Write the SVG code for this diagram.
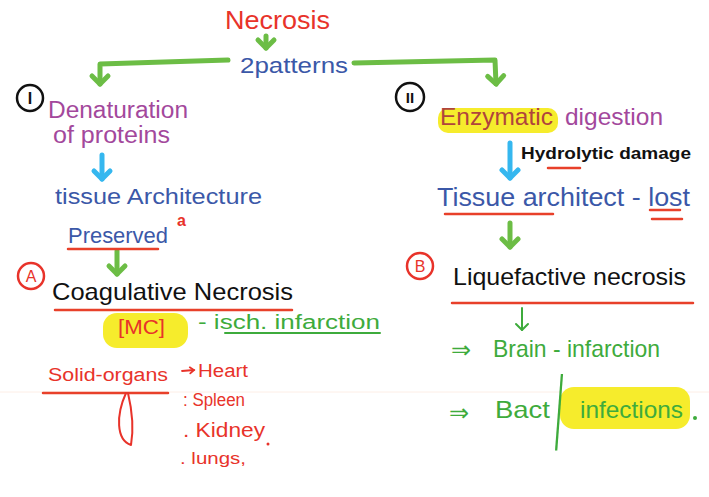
<svg xmlns="http://www.w3.org/2000/svg" width="709" height="497" viewBox="0 0 709 497">
<style>
text{font-family:"Liberation Sans","Noto Sans",sans-serif;}
.red{fill:#e8332a}.blue{fill:#3b58a8}.purple{fill:#a3489c}.blk{fill:#111}.grn{fill:#3eab3c}
.ln{fill:none;stroke-linecap:round;stroke-linejoin:round}
.rl{stroke:#e8402a;stroke-width:2.5}
.hl{fill:#f6ec2c}
.circ{fill:none;stroke-width:2.5}
</style>
<defs>
<marker id="hg" markerUnits="userSpaceOnUse" markerWidth="24" markerHeight="24" refX="0" refY="0" viewBox="-12 -12 24 24" orient="auto" overflow="visible">
<path d="M-8,-8 L0,0 L-8,8" fill="none" stroke="#6cbd45" stroke-width="5" stroke-linecap="round" stroke-linejoin="round"/>
</marker>
<marker id="hb" markerUnits="userSpaceOnUse" markerWidth="24" markerHeight="24" refX="0" refY="0" viewBox="-12 -12 24 24" orient="auto" overflow="visible">
<path d="M-8,-8 L0,0 L-8,8" fill="none" stroke="#35b7ef" stroke-width="5" stroke-linecap="round" stroke-linejoin="round"/>
</marker>
<marker id="hgs" markerUnits="userSpaceOnUse" markerWidth="16" markerHeight="16" refX="0" refY="0" viewBox="-8 -8 16 16" orient="auto" overflow="visible">
<path d="M-6,-6 L0,0 L-6,6" fill="none" stroke="#3eab3c" stroke-width="2" stroke-linecap="round" stroke-linejoin="round"/>
</marker>
<marker id="hr" markerUnits="userSpaceOnUse" markerWidth="10" markerHeight="10" refX="0" refY="0" viewBox="-5 -5 10 10" orient="auto" overflow="visible">
<path d="M-4,-3 L0,0 L-4,3" fill="none" stroke="#e8332a" stroke-width="1.8" stroke-linecap="round"/>
</marker>
</defs>
<rect width="709" height="497" fill="#fff"/>
<line x1="0" y1="392" x2="709" y2="392" stroke="#fdeee6" stroke-width="1"/>

<g id="connectors" class="ln">
<path d="M266,36 L266,48" stroke="#6cbd45" stroke-width="5" marker-end="url(#hg)"/>
<path d="M228,60 L100,64 L100,84" stroke="#6cbd45" stroke-width="5" marker-end="url(#hg)"/>
<path d="M354,63 L495,60 L496,84" stroke="#6cbd45" stroke-width="5" marker-end="url(#hg)"/>
<path d="M102,155 L102,179" stroke="#35b7ef" stroke-width="5" marker-end="url(#hb)"/>
<path d="M117,251 L117,274" stroke="#6cbd45" stroke-width="5" marker-end="url(#hg)"/>
<path d="M510,143 L510,178" stroke="#35b7ef" stroke-width="5" marker-end="url(#hb)"/>
<path d="M510,223 L510,247" stroke="#6cbd45" stroke-width="5" marker-end="url(#hg)"/>
<path d="M522,308 L522,330" stroke="#3eab3c" stroke-width="2" marker-end="url(#hgs)"/>
<path d="M182,371 L194,370" stroke="#e8332a" stroke-width="1.8" marker-end="url(#hr)"/>
</g>

<g id="necrosis"><text x="225" y="29" font-size="26" textLength="105" lengthAdjust="spacingAndGlyphs" class="red">Necrosis</text></g>
<g id="patterns"><text x="240" y="73" font-size="22" textLength="108" lengthAdjust="spacingAndGlyphs" class="blue">2patterns</text></g>

<g id="denaturation">
<circle cx="30" cy="98" r="13" class="circ" stroke="#111"/>
<text x="30" y="104" font-size="16" font-weight="bold" text-anchor="middle" class="blk">I</text>
<text x="48" y="118" font-size="23" textLength="140" lengthAdjust="spacingAndGlyphs" class="purple">Denaturation</text>
<text x="53" y="143" font-size="23" textLength="117" lengthAdjust="spacingAndGlyphs" class="purple">of proteins</text>
</g>

<g id="preserved">
<text x="55" y="204" font-size="22" textLength="207" lengthAdjust="spacingAndGlyphs" class="blue">tissue Architecture</text>
<text x="68" y="243" font-size="22" textLength="100" lengthAdjust="spacingAndGlyphs" class="blue">Preserved</text>
<line x1="68" y1="249" x2="158" y2="249" class="ln rl"/>
<text x="177" y="226" font-size="16" font-weight="bold" class="red">a</text>
</g>

<g id="coagulative">
<circle cx="31" cy="276" r="13" class="circ" stroke="#e8332a"/>
<text x="31" y="282" font-size="16" text-anchor="middle" class="red">A</text>
<text x="52" y="300" font-size="24" textLength="241" lengthAdjust="spacingAndGlyphs" class="blk">Coagulative Necrosis</text>
<line x1="55" y1="310" x2="292" y2="310" class="ln rl"/>
<rect x="103" y="313" width="85" height="35" rx="14" class="hl"/>
<text x="118" y="334" font-size="20" textLength="47" lengthAdjust="spacingAndGlyphs" class="red">[MC]</text>
<text x="198" y="329" font-size="20" textLength="182" lengthAdjust="spacingAndGlyphs" class="grn">- isch. infarction</text>
<line x1="225" y1="333" x2="380" y2="333" stroke="#3eab3c" stroke-width="2" class="ln"/>
</g>

<g id="solid-organs">
<text x="48" y="381" font-size="18" textLength="120" lengthAdjust="spacingAndGlyphs" class="red">Solid-organs</text>
<line x1="43" y1="393" x2="168" y2="393" class="ln rl"/>
<path d="M126,393 C116,415 116,440 131,445 C134,428 132,410 128,393" class="ln" stroke="#e8332a" stroke-width="2"/>
<text x="198" y="377" font-size="18" textLength="50" lengthAdjust="spacingAndGlyphs" class="red">Heart</text>
<text x="183" y="406" font-size="18" textLength="62" lengthAdjust="spacingAndGlyphs" class="red">: Spleen</text>
<text x="183" y="437" font-size="20" textLength="82" lengthAdjust="spacingAndGlyphs" class="red">. Kidney</text>
<circle cx="268" cy="444" r="1.5" fill="#e8332a"/>
<text x="180" y="464" font-size="16" textLength="66" lengthAdjust="spacingAndGlyphs" class="red">. lungs,</text>
</g>

<g id="enzymatic">
<circle cx="410" cy="97" r="14" class="circ" stroke="#111"/>
<text x="410" y="103" font-size="15" font-weight="bold" text-anchor="middle" class="blk">II</text>
<rect x="438" y="108" width="120" height="25" rx="10" class="hl"/>
<text x="440" y="125" font-size="24" textLength="113" lengthAdjust="spacingAndGlyphs" fill="#b0443c">Enzymatic</text>
<text x="565" y="125" font-size="24" textLength="98" lengthAdjust="spacingAndGlyphs" class="purple">digestion</text>
</g>

<g id="hydrolytic">
<text x="521" y="159" font-size="17" font-weight="bold" textLength="170" lengthAdjust="spacingAndGlyphs" class="blk">Hydrolytic damage</text>
<line x1="548" y1="168" x2="580" y2="168" class="ln rl"/>
</g>

<g id="lost">
<text x="437" y="206" font-size="26" textLength="253" lengthAdjust="spacingAndGlyphs" class="blue">Tissue architect - lost</text>
<line x1="445" y1="214" x2="553" y2="214" class="ln rl"/>
<line x1="650" y1="210" x2="680" y2="210" class="ln rl"/>
<line x1="652" y1="219" x2="682" y2="219" class="ln rl"/>
</g>

<g id="liquefactive">
<circle cx="420" cy="266" r="13" class="circ" stroke="#e8332a"/>
<text x="420" y="272" font-size="16" text-anchor="middle" class="red">B</text>
<text x="453" y="285" font-size="24" textLength="233" lengthAdjust="spacingAndGlyphs" class="blk">Liquefactive necrosis</text>
<line x1="452" y1="303" x2="693" y2="303" class="ln rl"/>
</g>

<g id="brain">
<text x="451" y="358" font-size="24" class="grn">⇒</text>
<text x="493" y="357" font-size="24" textLength="167" lengthAdjust="spacingAndGlyphs" class="grn">Brain - infarction</text>
</g>

<g id="bact">
<text x="449" y="421" font-size="24" class="grn">⇒</text>
<text x="495" y="418" font-size="24" textLength="55" lengthAdjust="spacingAndGlyphs" class="grn">Bact</text>
<rect x="560" y="387" width="130" height="42" rx="14" class="hl"/>
<text transform="translate(555,449) scale(1,3.6)" x="0" y="0" font-size="29" class="grn">/</text>
<text x="580" y="418" font-size="24" textLength="103" lengthAdjust="spacingAndGlyphs" class="grn">infections</text>
<circle cx="695" cy="418" r="2" fill="#3eab3c"/>
</g>
</svg>
